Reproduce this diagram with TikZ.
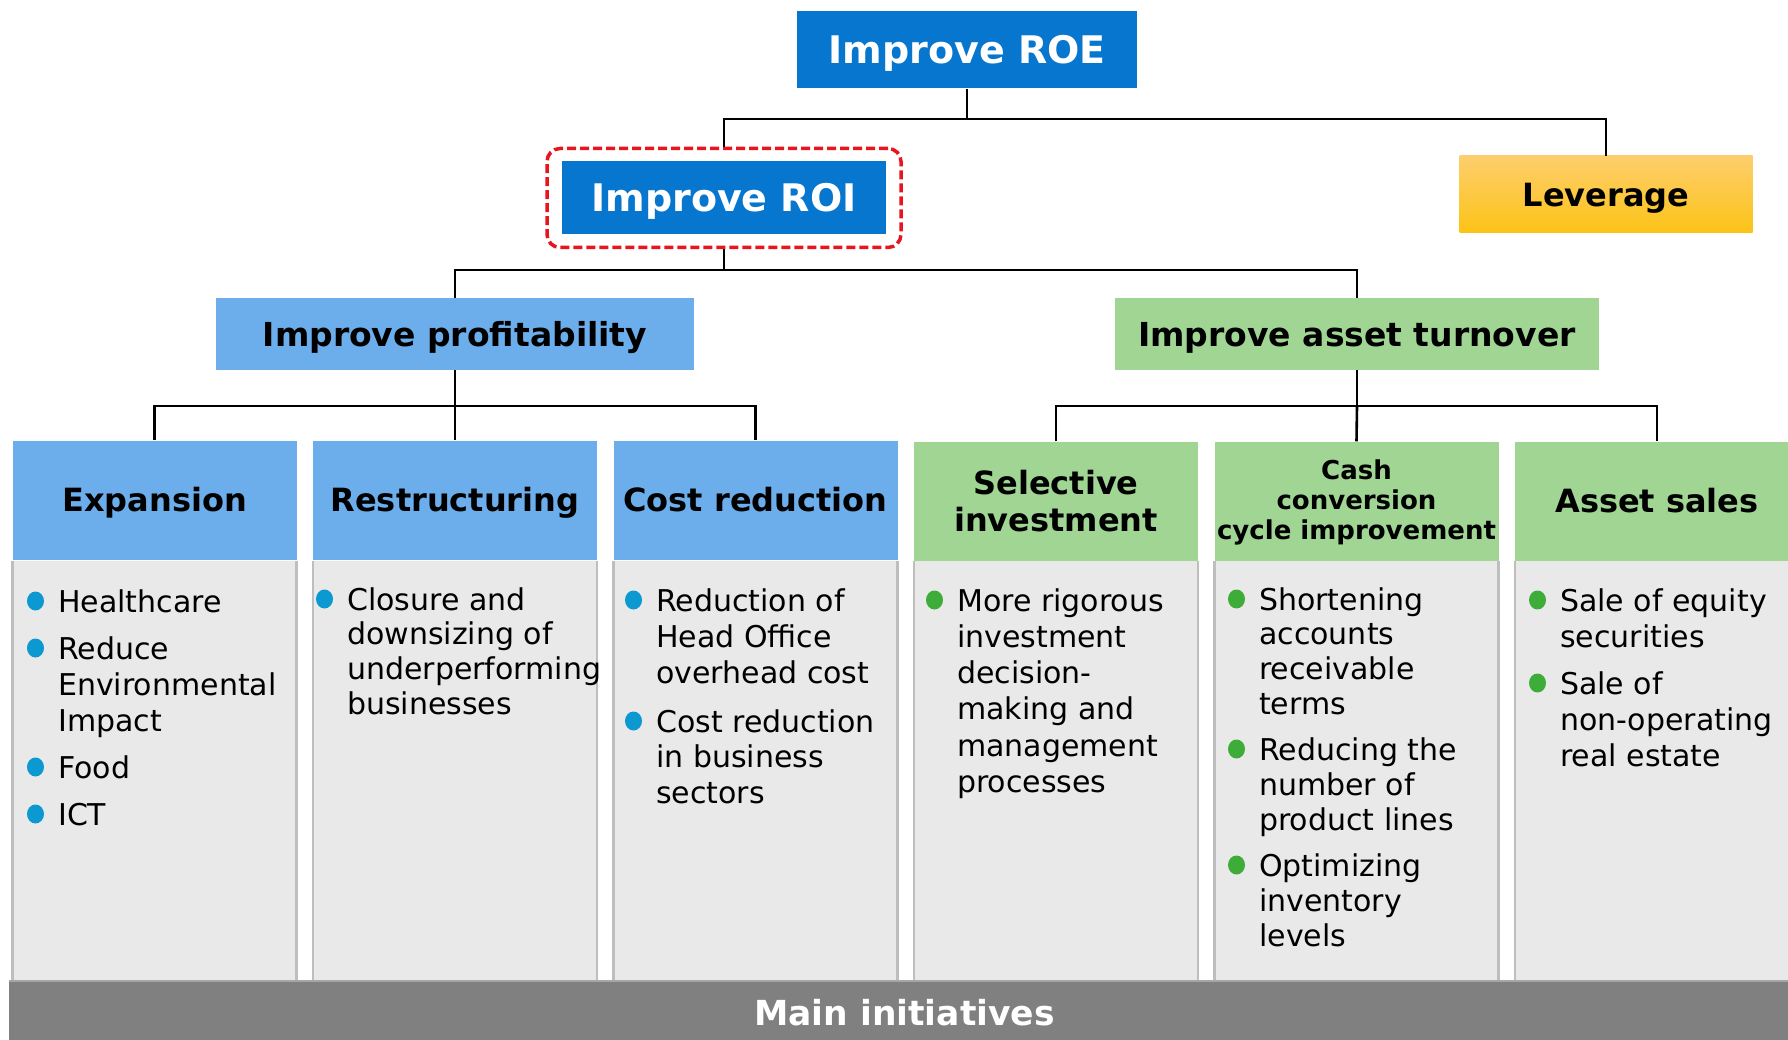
\documentclass[tikz,border=0pt]{standalone}
\usepackage{fontspec}
\setmainfont{DejaVu Sans}
\definecolor{roeblue}{RGB}{6,118,206}
\definecolor{hblue}{RGB}{108,174,235}
\definecolor{hgreen}{RGB}{160,213,148}
\definecolor{bodygray}{RGB}{233,233,233}
\definecolor{bodyedge}{RGB}{190,190,190}
\definecolor{bargray}{RGB}{128,128,128}
\definecolor{dotblue}{RGB}{12,152,208}
\definecolor{dotgreen}{RGB}{61,172,56}
\definecolor{framered}{RGB}{232,20,30}
\definecolor{levtop}{RGB}{253,206,108}
\definecolor{levbot}{RGB}{252,195,22}
\newcommand\itemlines[1]{\begin{tabular}[t]{@{}l@{}}#1\end{tabular}}
\begin{document}
\begin{tikzpicture}[x=1pt,y=-1pt,
  conn/.style={draw=black,line width=2.6pt},
  topbox/.style={rectangle,inner sep=0pt,fill=roeblue,text=white,
    text height=35.3pt,text depth=7.6pt,
    font=\fontsize{38}{44}\selectfont\bfseries},
  levbox/.style={rectangle,inner sep=0pt,top color=levtop,bottom color=levbot,
    text height=29.8pt,text depth=6.4pt,
    minimum width=293pt,minimum height=77pt,font=\fontsize{32}{38}\selectfont\bfseries},
  midbox/.style={rectangle,inner sep=0pt,minimum height=72pt,
    text height=30.7pt,text depth=6.6pt,
    font=\fontsize{33}{38}\selectfont\bfseries},
  hdr/.style={rectangle,inner sep=0pt,minimum width=284pt,minimum height=119pt,
    align=center,font=\fontsize{32}{36.5}\selectfont\bfseries},
  onehdr/.style={hdr,text height=29.8pt,text depth=6.4pt},
  bodybox/.style={rectangle,inner sep=0pt,fill=bodygray,minimum width=284pt,minimum height=420pt},
  itemtext/.style={anchor=base west,inner sep=0pt,
    font=\fontsize{30}{#1}\selectfont},
  itemtext/.default=36.3,
]
\useasboundingbox (0,0) rectangle (1788,1040);
\clip (0,0) rectangle (1788,1040);

% top levels
\node[topbox,minimum width=340pt,minimum height=77pt] (roe) at (967,50) {Improve ROE};
\node[rectangle,draw=framered,line width=3.5pt,dash pattern=on 9pt off 4pt,
  rounded corners=13pt,minimum width=354pt,minimum height=99pt] (roiframe) at (724,198) {};
\node[topbox,minimum width=324pt,minimum height=73pt] (roi) at (724,198) {Improve ROI};
\node[levbox] (lev) at (1606,194.5) {Leverage};

\node[midbox,fill=hblue,minimum width=478pt] (prof) at (455,334) {Improve profitability};
\node[midbox,fill=hgreen,minimum width=484pt] (turn) at (1357,334) {Improve asset turnover};

% column headers
\node[onehdr,fill=hblue] (exp) at (154.5,500) {Expansion};
\node[onehdr,fill=hblue] (res) at (455,500) {Restructuring};
\node[onehdr,fill=hblue] (cost) at (755.5,500) {Cost reduction};
\node[hdr,fill=hgreen] (sel) at (1056,501) {Selective\\investment};
\node[hdr,fill=hgreen,font=\fontsize{26}{30}\selectfont\bfseries] (cash) at (1356.5,501) {\rule{0pt}{0pt}\\[-7pt]Cash\\conversion\\cycle improvement};
\node[onehdr,fill=hgreen] (asset) at (1657,501) {Asset sales};

% bodies
\foreach \n/\x in {b1/154.5,b2/455,b3/755.5,b4/1056,b5/1356.5,b6/1657}{
  \node[bodybox] (\n) at (\x,771) {};
  \draw[bodyedge,line width=2.5pt] (\n.north west) -- (\n.south west)
    (\n.north east) -- (\n.south east);
}

% main bar
\node[rectangle,inner sep=0pt,fill=bargray,minimum width=1791pt,minimum height=64pt,
  text=white,text height=32.1pt,text depth=6.9pt,
  font=\fontsize{34.5}{40}\selectfont\bfseries] (mainbar) at (904.5,1013) {Main initiatives};
\draw[line width=2pt,draw=black!35] (mainbar.north west) -- (mainbar.north east);

% connectors
\coordinate (j1) at (967,119);
\draw[conn] (roe.south) -- (j1);
\draw[conn] (roiframe.north) |- (j1) -| (lev.north);
\coordinate (j2) at (724,270);
\draw[conn] (roiframe.south) -- (j2);
\draw[conn] (prof.north) |- (j2) -| (turn.north);
\coordinate (j3) at (455,406);
\draw[conn] (prof.south) -- (j3);
\draw[conn] (exp.north) |- (j3) -| (cost.north);
\draw[conn] (j3) -- (res.north);
\coordinate (j4) at (1357,406);
\draw[conn] (turn.south) -- (j4);
\draw[conn] (sel.north) |- (j4) -| (asset.north);
\draw[conn] (j4) -- (cash.north);

% items column 1
\node[itemtext] (i11) at (58,612) {Healthcare};
\node[itemtext] (i12) at (58,659) {\itemlines{Reduce\\Environmental\\Impact}};
\node[itemtext] (i13) at (58,778) {Food};
\node[itemtext] (i14) at (58,825) {ICT};
% column 2
\node[itemtext=34.8] (i21) at (347,610) {\itemlines{Closure and\\downsizing of\\underperforming\\businesses}};
% column 3
\node[itemtext] (i31) at (656,611) {\itemlines{Reduction of\\Head Office\\overhead cost}};
\node[itemtext=35.5] (i32) at (656,732) {\itemlines{Cost reduction\\in business\\sectors}};
% column 4
\node[itemtext] (i41) at (957,611) {\itemlines{More rigorous\\investment\\decision-\\making and\\management\\processes}};
% column 5
\node[itemtext=34.8] (i51) at (1259,610) {\itemlines{Shortening\\accounts\\receivable\\terms}};
\node[itemtext=35] (i52) at (1259,760) {\itemlines{Reducing the\\number of\\product lines}};
\node[itemtext=35] (i53) at (1259,876) {\itemlines{Optimizing\\inventory\\levels}};
% column 6
\node[itemtext] (i61) at (1560,611) {\itemlines{Sale of equity\\securities}};
\node[itemtext] (i62) at (1560,694) {\itemlines{Sale of\\non-operating\\real estate}};

\foreach \n in {i11,i12,i13,i14,i21,i31,i32}{
  \fill[dotblue] ([xshift=-22.5pt,yshift=11pt]\n.base west) ellipse (8.5pt and 9.5pt);
}
\foreach \n in {i41,i51,i52,i53,i61,i62}{
  \fill[dotgreen] ([xshift=-22.5pt,yshift=11pt]\n.base west) ellipse (8.5pt and 9.5pt);
}
\end{tikzpicture}
\end{document}
